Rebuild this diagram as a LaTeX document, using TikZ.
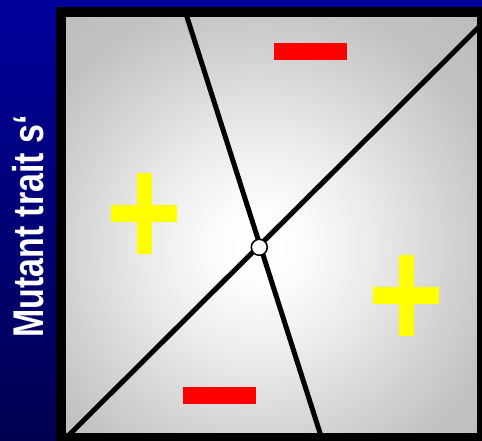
\documentclass[tikz,border=0pt]{standalone}
\usepackage{fontspec}
\setmainfont{Liberation Sans}
\definecolor{bgtop}{RGB}{0,0,155}
\definecolor{bgbot}{RGB}{0,0,82}
\definecolor{plusyellow}{RGB}{255,255,0}
\definecolor{minusred}{RGB}{255,0,0}
\pgfdeclareradialshading{grayglow}{\pgfpoint{0bp}{0bp}}{%
  rgb(0bp)=(1,1,1);
  rgb(3bp)=(0.99,0.99,0.99);
  rgb(8bp)=(0.93,0.93,0.93);
  rgb(13bp)=(0.85,0.85,0.85);
  rgb(19bp)=(0.76,0.76,0.76);
  rgb(30bp)=(0.71,0.71,0.71);
  rgb(50bp)=(0.68,0.68,0.68)}
\tikzset{
  frameline/.style={line width=10pt, draw=black},
  boundary/.style={line width=5pt, draw=black, line cap=butt},
  sing/.style={circle, draw=black, fill=white, line width=1.5pt, minimum size=16pt, inner sep=0pt},
  plusbar/.style={rectangle, fill=plusyellow, inner sep=0pt},
  minusbar/.style={rectangle, fill=minusred, inner sep=0pt, minimum width=73pt, minimum height=17pt},
  axislabel/.style={text=white, inner sep=0pt, rotate=90, font=\fontsize{43}{43}\selectfont\bfseries}
}
\begin{document}
\begin{tikzpicture}[x=1pt,y=-1pt]
\useasboundingbox (0,0) rectangle (482,441);
% background
\shade[top color=bgtop, bottom color=bgbot] (0,0) rectangle (482,441);
% gray field
\begin{scope}
  \clip (61,12) rectangle (482,438);
  \fill[shading=grayglow] (259,247) circle (330);
\end{scope}
% boundary lines
\coordinate (ltop) at (185.4,12);
\coordinate (lbot) at (321.6,438);
\coordinate (dbl) at (66,438);
\coordinate (dtr) at (482,24);
\draw[boundary] (ltop) -- (lbot);
\draw[boundary] (dbl) -- (dtr);
% frame
\draw[frameline] (61,12) rectangle (482,438);
% singular point
\node[sing] (sp) at (259.3,247.3) {};
% signs
\node[minusbar] (mtop) at (310.5,51.5) {};
\node[minusbar] (mbot) at (219.5,395.5) {};
\node[plusbar, minimum width=15pt, minimum height=81pt] (plv) at (144.5,213.5) {};
\node[plusbar, minimum width=66pt, minimum height=17pt] (plh) at (144.2,213.6) {};
\node[plusbar, minimum width=15pt, minimum height=81pt] (prv) at (406.5,295.5) {};
\node[plusbar, minimum width=66pt, minimum height=17pt] (prh) at (406.3,295.2) {};
% axis label
\node[axislabel] (lab) at (28,226.5) {\scalebox{0.79}[1]{Mutant trait s‘}};
\end{tikzpicture}
\end{document}
